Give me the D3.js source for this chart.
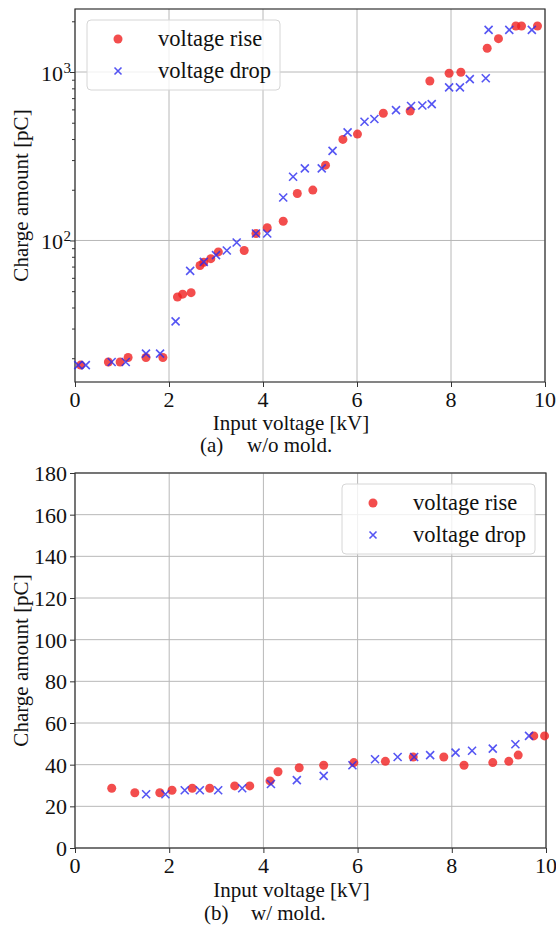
<!DOCTYPE html>
<html>
<head>
<meta charset="utf-8">
<script src="https://cdn.jsdelivr.net/npm/d3@7"></script>
<style>
  body { margin: 0; background: #fff; }
</style>
</head>
<body>
<svg id="chart" width="556" height="929"></svg>
<script>
// (a) w/o mold. -- log scale
const riseA_v = [0.12,0.71,0.96,1.13,1.51,1.87,2.18,2.29,2.47,2.66,2.74,2.89,3.05,3.60,3.85,4.09,4.43,4.73,5.06,5.33,5.70,6.01,6.56,7.13,7.55,7.96,8.21,8.77,9.01,9.38,9.50,9.84]
const riseA_q = [18.2,19,19,20.2,20.2,20.2,46.2,48,49,71,74.3,78,85.5,87.2,110,119,130,190,199,280,398,428,569,587,884,983,996,1383,1578,1876,1876,1876]
const dropA_v = [0.07,0.23,0.78,1.08,1.51,1.81,2.14,2.45,2.74,3.00,3.23,3.44,3.85,4.09,4.43,4.64,4.89,5.25,5.48,5.80,6.16,6.37,6.83,7.15,7.39,7.59,7.96,8.19,8.40,8.74,8.80,9.24,9.72]
const dropA_q = [18.2,18.2,19,19,21.3,21.3,33.1,66,74.6,81.8,87.2,97.3,110,110,180,239,268,268,340,438,507,526,594,628,633,645,811,811,908,918,1778,1778,1778]

// (b) w/ mold. -- linear scale
const riseB_v = [0.78,1.27,1.80,2.06,2.49,2.86,3.39,3.71,4.14,4.31,4.76,5.28,5.92,6.59,7.18,7.83,8.26,8.87,9.21,9.41,9.74,9.97]
const riseB_q = [28.7,26.5,26.5,27.7,28.7,28.7,29.8,29.8,32.2,36.6,38.5,39.7,41.0,41.6,43.7,43.7,39.7,41.0,41.6,44.6,53.8,53.8]
const dropB_v = [1.51,1.92,2.33,2.65,3.04,3.55,4.16,4.71,5.28,5.89,6.37,6.85,7.20,7.54,8.08,8.43,8.87,9.35,9.64]
const dropB_q = [25.8,25.8,27.7,27.7,27.7,28.7,30.7,32.6,34.6,39.7,42.6,43.7,43.7,44.6,45.8,46.7,47.7,49.8,53.8]

const xTicks = [0,2,4,6,8,10]
const yTicksA = [100,1000]
const yExpA = ["2","3"]
const yMinorA = [20,30,40,50,60,70,80,90,200,300,400,500,600,700,800,900,2000]
const yTicksB = [0,20,40,60,80,100,120,140,160,180]
const seriesNames = ["voltage rise","voltage drop"]
const xTitle = "Input voltage [kV]"
const yTitle = "Charge amount [pC]"
const captions = [["(a)","w/o mold."],["(b)","w/ mold."]]

const svg = d3.select("#chart")
const RED = "#f02020", BLUE = "#2a2af0"

function label(g, x, y, str, size, anchor, rot) {
    const t = g.append("text")
        .style("font-family", "'Liberation Serif'")
        .style("font-size", size + "px")
        .attr("fill", "#111")
        .attr("text-anchor", anchor || "start")
        .text(str)
    if (rot) t.attr("transform", `translate(${x},${y}) rotate(-90)`)
    else t.attr("x", x).attr("y", y)
    return t
}

function drawPanel(cfg) {
    const g = svg.append("g")
    const {x, y, box} = cfg

    // grid
    g.append("g").selectAll("line").data(xTicks).enter().append("line")
        .attr("x1", d => x(d)).attr("x2", d => x(d))
        .attr("y1", box.top).attr("y2", box.bottom)
        .attr("stroke", "#b8b8b8").attr("stroke-width", 1)
    g.append("g").selectAll("line").data(cfg.yTicks).enter().append("line")
        .attr("x1", box.left).attr("x2", box.right)
        .attr("y1", d => y(d)).attr("y2", d => y(d))
        .attr("stroke", "#b8b8b8").attr("stroke-width", 1)

    // axes (tick marks only, labels drawn separately)
    g.append("g").attr("transform", `translate(0,${box.bottom})`)
        .call(d3.axisBottom(x).tickValues(xTicks).tickSize(5).tickFormat(""))
    g.append("g").attr("transform", `translate(${box.left},0)`)
        .call(d3.axisLeft(y).tickValues(cfg.yTicks).tickSize(5).tickFormat(""))
    if (cfg.yMinor) {
        g.append("g").attr("transform", `translate(${box.left},0)`)
            .call(d3.axisLeft(y).tickValues(cfg.yMinor).tickSize(3).tickFormat(""))
    }
    g.selectAll(".domain").remove()
    g.selectAll(".tick line").attr("stroke", "#333")

    g.append("rect")
        .attr("x", box.left).attr("y", box.top)
        .attr("width", box.right - box.left).attr("height", box.bottom - box.top)
        .attr("fill", "none").attr("stroke", "#333").attr("stroke-width", 1.2)

    // tick labels
    xTicks.forEach(d => label(g, x(d), box.bottom + 25, d, 22, "middle"))
    cfg.yTicks.forEach((d, i) => {
        if (cfg.yExp) {
            label(g, box.left - 12, y(d) + 9, "10", 22, "end")
            label(g, box.left - 4, y(d) + 1, cfg.yExp[i], 15, "end")
        } else {
            label(g, box.left - 8, y(d) + 8, d, 22, "end")
        }
    })

    // titles
    label(g, (box.left + box.right) / 2 - 19, box.bottom + cfg.titleDy, xTitle, 21, "middle")
    label(g, 28, (box.top + box.bottom) / 2, yTitle, 21, "middle", true)
    label(g, cfg.capX, box.bottom + cfg.capDy, cfg.caption[0], 21, "start")
    label(g, cfg.capX + 47, box.bottom + cfg.capDy, cfg.caption[1], 21, "start")

    // points
    const rise = cfg.riseV.map((v, i) => [v, cfg.riseQ[i]])
    const drop = cfg.dropV.map((v, i) => [v, cfg.dropQ[i]])
    g.append("g").selectAll("circle").data(rise).enter().append("circle")
        .attr("cx", d => x(d[0])).attr("cy", d => y(d[1])).attr("r", 4.5)
        .attr("fill", RED).attr("fill-opacity", 0.8)
    g.append("g").selectAll("path").data(drop).enter().append("path")
        .attr("d", d => { const px = x(d[0]), py = y(d[1]), s = 4
            return `M${px-s},${py-s}L${px+s},${py+s}M${px-s},${py+s}L${px+s},${py-s}` })
        .attr("stroke", BLUE).attr("stroke-opacity", 0.8).attr("stroke-width", 1.6)

    // legend
    const L = cfg.legend
    const lg = g.append("g").attr("transform", `translate(${L.x},${L.y})`)
    lg.append("rect").attr("width", 193).attr("height", 70).attr("rx", 4)
        .attr("fill", "#fff").attr("fill-opacity", 0.8)
        .attr("stroke", "#d6d6d6").attr("stroke-width", 1)
    lg.append("circle").attr("cx", 31).attr("cy", 19).attr("r", 4.5)
        .attr("fill", RED).attr("fill-opacity", 0.8)
    lg.append("path").attr("d", "M27.5,47.5L34.5,54.5M27.5,54.5L34.5,47.5")
        .attr("stroke", BLUE).attr("stroke-opacity", 0.8).attr("stroke-width", 1.6)
    label(lg, 71, 26, seriesNames[0], 22.5, "start")
    label(lg, 71, 58, seriesNames[1], 22.5, "start")
}

const boxA = {left: 75, right: 545, top: 9, bottom: 382}
drawPanel({
    box: boxA,
    x: d3.scaleLinear().domain([0, 10]).range([boxA.left, boxA.right]),
    y: d3.scaleLog().domain([14.45, 2366]).range([boxA.bottom, boxA.top]),
    yTicks: yTicksA, yExp: yExpA, yMinor: yMinorA,
    riseV: riseA_v, riseQ: riseA_q, dropV: dropA_v, dropQ: dropA_q,
    legend: {x: 87, y: 20},
    caption: captions[0], capX: 200, titleDy: 48, capDy: 70
})

const boxB = {left: 75, right: 546, top: 473, bottom: 848}
drawPanel({
    box: boxB,
    x: d3.scaleLinear().domain([0, 10]).range([boxB.left, boxB.right]),
    y: d3.scaleLinear().domain([0, 180]).range([boxB.bottom, boxB.top]),
    yTicks: yTicksB,
    riseV: riseB_v, riseQ: riseB_q, dropV: dropB_v, dropQ: dropB_q,
    legend: {x: 342, y: 484},
    caption: captions[1], capX: 204, titleDy: 49, capDy: 72
})
</script>
</body>
</html>
